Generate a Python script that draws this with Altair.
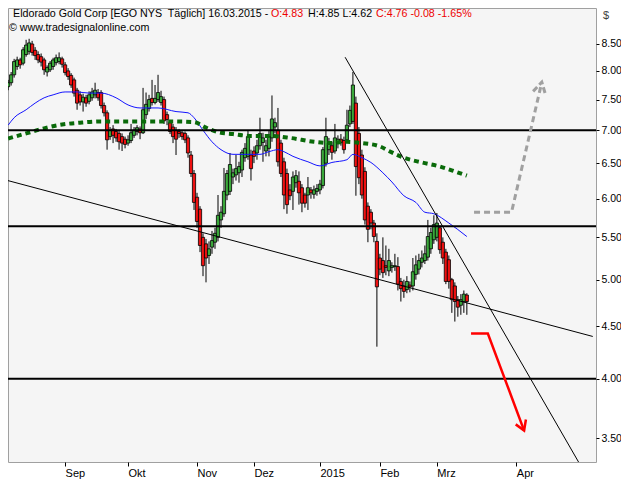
import altair as alt
import numpy as np
import pandas as pd

# ---------------- data ----------------
# bar index 0 = 02.09.2014 (first trading day of September)
bar_idx = list(range(-19, 135))

open_ = [
    7.72, 7.79, 7.93, 8.08, 8.20, 8.14, 8.30, 8.36, 8.50, 8.38, 8.30, 8.26, 8.20, 7.98, 8.02, 8.08, 8.15, 8.17, 8.22,
    8.11, 8.00, 7.92, 7.84, 7.66, 7.58, 7.46, 7.53, 7.47, 7.53, 7.58, 7.62,
    7.62, 7.40, 7.28, 6.90, 7.02, 6.98, 6.95, 6.90, 6.86,
    6.80, 6.84, 6.92, 6.98, 7.02, 6.96, 7.25, 7.35, 7.52, 7.45, 7.50, 7.45,
    7.50, 7.25, 7.12, 7.05, 7.00, 6.98, 6.96, 6.95, 6.88, 6.62, 6.35,
    6.02, 5.86, 5.50, 5.42, 5.28, 5.38, 5.44, 5.50, 5.72, 5.80, 6.05, 6.10, 6.30, 6.33, 6.36, 6.40, 6.58, 6.60, 6.62,
    6.68, 6.65, 6.76, 6.81, 6.68, 6.72, 6.88, 7.05, 7.00, 6.80, 6.52, 6.35,
    6.12, 6.10, 6.22, 6.24, 6.15, 6.05, 6.05, 6.12, 6.06, 6.10,
    6.12, 6.18, 6.50, 6.70, 6.76, 6.68, 6.80, 6.86, 6.84, 6.85, 7.10, 7.14, 7.44, 6.95, 6.62, 6.38, 5.90, 5.82, 5.68, 5.45,
    5.25, 5.22, 5.16, 5.10, 5.14, 5.15, 5.15, 4.98, 4.93, 4.89, 4.94, 4.93, 5.06, 5.12, 5.20, 5.22, 5.26, 5.36, 5.47,
    5.50, 5.62, 5.44, 5.32, 5.23, 5.00, 4.93, 4.78, 4.72, 4.76, 4.83,
]
high = [
    7.84, 7.98, 8.22, 8.26, 8.24, 8.44, 8.58, 8.60, 8.56, 8.44, 8.36, 8.32, 8.24, 8.10, 8.18, 8.24, 8.30, 8.34, 8.26,
    8.16, 8.05, 7.96, 7.88, 7.70, 7.64, 7.60, 7.58, 7.64, 7.70, 7.79, 7.68,
    7.66, 7.45, 7.32, 7.05, 7.08, 7.02, 7.00, 6.95, 6.90,
    6.92, 7.10, 7.05, 7.08, 7.06, 7.70, 7.62, 7.58, 7.84, 7.75, 7.93, 7.65,
    7.55, 7.30, 7.16, 7.10, 7.05, 7.02, 7.00, 6.98, 6.92, 6.68, 6.40,
    6.08, 5.90, 5.55, 5.48, 5.45, 5.58, 5.62, 6.05, 5.90, 6.43, 6.40, 6.65, 6.42, 6.62, 6.52, 6.70, 6.80, 7.00, 6.70,
    6.75, 6.85, 7.20, 6.96, 6.85, 7.00, 7.57, 7.20, 7.36, 6.85, 6.58, 6.42,
    6.20, 6.38, 6.40, 6.38, 6.20, 6.08, 6.30, 6.16, 6.18, 6.20,
    6.26, 6.74, 7.20, 6.88, 6.82, 7.10, 6.92, 6.94, 6.90, 7.33, 7.40, 7.98, 7.55, 7.05, 6.70, 6.44, 5.95, 5.86, 5.72, 5.55,
    5.30, 5.50, 5.40, 5.36, 5.20, 5.30, 5.26, 5.02, 5.00, 5.04, 4.98, 5.25, 5.28, 5.30, 5.34, 5.40, 5.72, 5.62, 5.78,
    5.81, 5.65, 5.50, 5.36, 5.28, 5.02, 4.97, 4.82, 4.84, 4.88, 4.85,
]
low = [
    7.66, 7.74, 7.88, 8.02, 8.04, 8.10, 8.26, 8.30, 8.28, 8.20, 8.14, 8.08, 7.93, 7.90, 7.98, 8.02, 8.10, 8.12, 8.06,
    7.92, 7.84, 7.70, 7.55, 7.33, 7.40, 7.30, 7.38, 7.42, 7.48, 7.52, 7.48,
    7.35, 7.22, 6.70, 6.85, 6.80, 6.82, 6.70, 6.68, 6.72,
    6.76, 6.80, 6.88, 6.92, 6.86, 6.94, 7.18, 7.30, 7.40, 7.42, 7.46, 7.40,
    7.10, 7.08, 6.94, 6.80, 6.62, 6.88, 6.85, 6.80, 6.58, 6.30, 5.85,
    5.62, 5.32, 5.04, 4.97, 5.18, 5.30, 5.36, 5.45, 5.62, 5.76, 5.98, 6.05, 6.20, 6.25, 6.22, 6.30, 6.52, 6.55, 6.25,
    6.50, 6.55, 6.70, 6.52, 6.60, 6.60, 6.82, 6.95, 6.45, 6.30, 5.86, 5.80,
    5.98, 5.85, 6.15, 5.92, 5.82, 5.88, 5.85, 6.00, 6.00, 6.04,
    6.06, 6.14, 6.45, 6.62, 6.55, 6.64, 6.72, 6.76, 6.64, 6.80, 7.05, 7.10, 6.04, 6.20, 6.00, 5.66, 5.44, 5.60, 5.44, 4.30,
    5.05, 5.02, 5.05, 5.04, 5.08, 5.10, 4.88, 4.76, 4.80, 4.85, 4.86, 4.88, 5.00, 5.06, 5.14, 5.18, 5.22, 5.30, 5.42,
    5.45, 5.30, 5.18, 4.95, 4.90, 4.64, 4.55, 4.60, 4.62, 4.64, 4.62,
]
close = [
    7.79, 7.93, 8.17, 8.20, 8.11, 8.39, 8.48, 8.52, 8.34, 8.28, 8.20, 8.16, 8.02, 8.06, 8.14, 8.20, 8.24, 8.24, 8.12,
    7.97, 7.90, 7.75, 7.61, 7.44, 7.46, 7.54, 7.44, 7.58, 7.63, 7.66, 7.53,
    7.40, 7.28, 6.85, 7.00, 6.92, 6.88, 6.82, 6.80, 6.78,
    6.85, 6.96, 7.00, 7.04, 6.96, 7.33, 7.42, 7.50, 7.45, 7.52, 7.62, 7.55,
    7.15, 7.17, 6.98, 6.90, 6.86, 6.95, 6.90, 6.85, 6.65, 6.35, 5.95,
    5.70, 5.40, 5.16, 5.25, 5.36, 5.46, 5.55, 5.78, 5.82, 6.10, 6.35, 6.48, 6.36, 6.42, 6.45, 6.66, 6.72, 6.90, 6.42,
    6.60, 6.76, 6.95, 6.88, 6.76, 6.90, 7.18, 7.12, 6.52, 6.35, 6.05, 5.92,
    6.04, 6.30, 6.32, 6.08, 5.94, 5.94, 6.15, 6.08, 6.12, 6.14,
    6.20, 6.70, 6.90, 6.80, 6.66, 6.88, 6.86, 6.81, 6.70, 7.08, 7.32, 7.75, 6.45, 6.29, 6.05, 5.72, 5.60, 5.68, 5.51, 4.92,
    5.12, 5.08, 5.14, 5.22, 5.16, 5.16, 4.95, 4.90, 4.87, 4.98, 4.92, 5.09, 5.17, 5.22, 5.25, 5.30, 5.51, 5.56, 5.66,
    5.68, 5.35, 5.25, 4.98, 4.98, 4.78, 4.76, 4.70, 4.78, 4.84, 4.76,
]

# moving averages (blue thin, green dashed)
ma_fast_idx = [-19, -17, -13, -10, -7, -4, 0, 4, 8, 12, 17, 21, 25, 31, 37, 41, 43, 46, 49, 52,
               56, 61, 65, 68, 71, 73, 76, 81, 85, 89, 94, 96, 99, 102, 106, 109, 113, 117, 120, 123, 128, 134]
ma_fast_val = [7.08, 7.20, 7.33, 7.44, 7.53, 7.58, 7.63, 7.63, 7.61, 7.61, 7.53, 7.41, 7.36, 7.36, 7.30, 7.28,
               7.20, 7.00, 6.82, 6.70, 6.63, 6.63, 6.63, 6.67, 6.70, 6.67, 6.60, 6.52, 6.46, 6.51, 6.55, 6.63,
               6.58, 6.51, 6.36, 6.23, 6.04, 5.95, 5.82, 5.80, 5.68, 5.51]
ma_slow_idx = [-19, -13, -7, -1, 5, 12, 20, 28, 36, 43, 47, 51, 56, 62, 68, 75, 83, 88, 94, 99,
               105, 108, 113, 119, 125, 130, 134]
ma_slow_val = [6.87, 6.95, 7.03, 7.09, 7.12, 7.14, 7.14, 7.14, 7.14, 7.13, 7.04, 6.97, 6.94, 6.91, 6.91,
               6.88, 6.82, 6.80, 6.82, 6.80, 6.75, 6.68, 6.58, 6.51, 6.45, 6.38, 6.32]

# horizontal support / resistance levels
levels = [7.00, 5.64, 4.00]

# trend lines (bar index, price)
trend_id = ["t1", "t1", "t2", "t2"]
trend_idx = [-20, 176, 93.4, 173]
trend_val = [6.26, 4.40, 8.25, 3.25]

# scenario arrows
up_idx = [136.4, 148.9, 159.0]
up_val = [5.82, 5.82, 7.80]
up_head_idx = [156.1, 159.0, 160.2]
up_head_val = [7.64, 7.80, 7.59]
down_idx = [135.4, 141.0, 153.1]
down_val = [4.43, 4.43, 3.56]
down_head_idx = [150.3, 153.1, 153.7]
down_head_val = [3.61, 3.56, 3.65]

# axis
month_pos = [0, 21, 44, 63, 85, 105, 124, 150.5]
month_lab = ["Sep", "Okt", "Nov", "Dez", "2015", "Feb", "Mrz", "Apr"]
price_ticks = [3.5, 4.0, 4.5, 5.0, 5.5, 6.0, 6.5, 7.0, 7.5, 8.0, 8.5]

title_main = "Eldorado Gold Corp [EGO NYS\u00a0 Täglich] 16.03.2015 - "
title_open = "O:4.83"
title_hl = "H:4.85 L:4.62"
title_close = "C:4.76 -0.08 -1.65%"
title_src = "© www.tradesignalonline.com"

# ---------------- chart ----------------
GREEN = "#3aa83a"
RED = "#ee1111"
FONT = "Liberation Sans"

X_DOM = [-17.377, 175.41]
Y_DOM = [3.3168, 9.217]
xs = alt.Scale(domain=X_DOM, nice=False, zero=False)
ys = alt.Scale(type="log", domain=Y_DOM, nice=False, zero=False)

label_expr = " : ".join(f"datum.value == {p} ? '{l}'" for p, l in zip(month_pos, month_lab)) + " : ''"
x_axis = alt.Axis(values=month_pos, labelExpr=label_expr, title=None, orient="bottom",
                  domain=False, grid=False, tickSize=4, tickColor="black", labelAlign="left",
                  labelBaseline="top", labelPadding=1, labelFont=FONT, labelFontSize=11,
                  labelColor="black")
y_axis = alt.Axis(values=price_ticks, format=".2f", title=None, orient="right", domain=False,
                  grid=False, tickSize=3, tickColor="black", labelPadding=2, labelFont=FONT,
                  labelFontSize=10.5, labelColor="black")


def X(field):
    return alt.X(field, scale=xs, axis=x_axis, title=None)


def Y(field):
    return alt.Y(field, scale=ys, axis=y_axis, title=None)


df = pd.DataFrame({"i": bar_idx, "o": open_, "h": high, "l": low, "c": close})
df["dir"] = np.where(df["c"] >= df["o"], "up", "down")

wicks = alt.Chart(df).mark_rule(color="black", strokeWidth=1, clip=True).encode(
    x=X("i:Q"), y=Y("l:Q"), y2="h:Q")
bodies = alt.Chart(df).mark_bar(size=3.2, stroke="black", strokeWidth=0.8, clip=True).encode(
    x=X("i:Q"), y=Y("o:Q"), y2="c:Q",
    color=alt.Color("dir:N", scale=alt.Scale(domain=["up", "down"], range=[GREEN, RED]), legend=None),
)

fast = alt.Chart(pd.DataFrame({"i": ma_fast_idx, "v": ma_fast_val})).mark_line(
    color="#1414ff", strokeWidth=1, clip=True, interpolate="monotone").encode(x=X("i:Q"), y=Y("v:Q"))
slow = alt.Chart(pd.DataFrame({"i": ma_slow_idx, "v": ma_slow_val})).mark_line(
    color="#0a6a0a", strokeWidth=4, strokeDash=[5, 4], clip=True, interpolate="monotone").encode(
    x=X("i:Q"), y=Y("v:Q"))

hlines = alt.Chart(pd.DataFrame({"v": levels})).mark_rule(color="black", strokeWidth=2).encode(
    y=Y("v:Q"))

trends = alt.Chart(pd.DataFrame({"id": trend_id, "i": trend_idx, "v": trend_val})).mark_line(
    color="black", strokeWidth=1, clip=True).encode(x=X("i:Q"), y=Y("v:Q"), detail="id:N")


def path(idx, val, **kw):
    d = pd.DataFrame({"i": idx, "v": val, "k": list(range(len(idx)))})
    return alt.Chart(d).mark_line(clip=True, **kw).encode(x=X("i:Q"), y=Y("v:Q"), order="k:Q")


up_arrow = path(up_idx, up_val, color="#a0a0a0", strokeWidth=3, strokeDash=[6, 4])
up_head = path(up_head_idx, up_head_val, color="#a0a0a0", strokeWidth=3, strokeDash=[6, 3])
down_arrow = path(down_idx, down_val, color="#ff0000", strokeWidth=2.5)
down_head = path(down_head_idx, down_head_val, color="#ff0000", strokeWidth=2.5)


def label(txt, px, py, color="black", size=10.7, align="left"):
    return alt.Chart(pd.DataFrame({"t": [txt]})).mark_text(
        align=align, baseline="alphabetic", font=FONT, fontSize=size, color=color).encode(
        x=alt.value(px), y=alt.value(py), text="t:N")


texts = [
    label(title_main, 5, 9),
    label(title_open, 263, 9, "#ee0000"),
    label(title_hl, 300, 9),
    label(title_close, 368, 9, "#ee0000"),
    label(title_src, 1, 23),
    label("$", 595, 11, "#404040", 11),
]

chart = alt.layer(
    wicks, bodies, fast, slow, hlines, trends, up_arrow, up_head, down_arrow, down_head, *texts
).properties(
    width=588, height=454,
    autosize=alt.AutoSizeParams(type="none"),
    padding={"left": 0, "top": 0, "right": 25, "bottom": 17},
    background="white",
).configure_view(stroke="#a0a0a0", strokeWidth=1, fill="#f5f5f5")

chart.save("out.html", embed_options={"renderer": "svg", "actions": False})
